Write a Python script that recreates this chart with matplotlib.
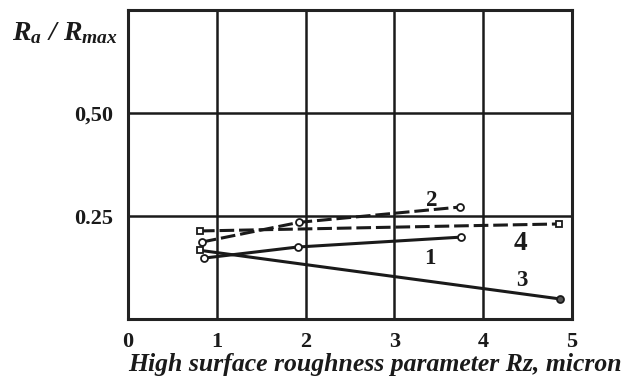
import matplotlib
matplotlib.use("Agg")
import matplotlib.pyplot as plt

# Data
x1 = [0.85, 1.91, 3.75]
y1 = [0.148, 0.175, 0.199]
x2 = [0.83, 1.93, 3.74]
y2 = [0.187, 0.235, 0.272]
x3 = [0.81, 4.87]
y3 = [0.167, 0.049]
x4 = [0.81, 4.86]
y4 = [0.214, 0.231]

xticks = [0, 1, 2, 3, 4, 5]
yticks = [0.25, 0.50]
ytick_labels = ["0.25", "0,50"]

plt.rcParams['font.family'] = ['Liberation Serif', 'DejaVu Serif']
plt.rcParams['mathtext.fontset'] = 'custom'
plt.rcParams['mathtext.rm'] = 'Liberation Serif:bold:italic'
plt.rcParams['mathtext.it'] = 'Liberation Serif:bold:italic'
plt.rcParams['mathtext.bf'] = 'Liberation Serif:bold:italic'

ink = '#1a1a1a'

fig = plt.figure(figsize=(6.31, 3.85), dpi=100)
ax = fig.add_axes([0.203, 0.171, 0.703, 0.803])

ax.set_xlim(0, 5)
ax.set_ylim(0, 0.75)

# grid lines
for v in [1, 2, 3, 4]:
    ax.axvline(v, color=ink, lw=1.8, zorder=1)
for v in yticks:
    ax.axhline(v, color=ink, lw=1.8, zorder=1)

for s in ax.spines.values():
    s.set_linewidth(2.2)
    s.set_color('#222222')

mk = dict(markersize=5, markerfacecolor='white', markeredgecolor=ink, markeredgewidth=1.3)

# curve 1 (solid)
ax.plot(x1, y1, color=ink, lw=2.2, marker='o', zorder=3, **mk)
# curve 2 (dashed)
ax.plot(x2, y2, color=ink, lw=2.2, dashes=(4.8, 1.6), marker='o', zorder=3, **mk)
# curve 3 (solid)
ax.plot(x3, y3, color=ink, lw=2.2, zorder=3)
ax.plot(x3[:1], y3[:1], ls='none', marker='s', zorder=4, **mk)
ax.plot(x3[1:], y3[1:], ls='none', marker='o', markersize=5, markerfacecolor='#555555',
        markeredgecolor=ink, markeredgewidth=1.3, zorder=4)
# curve 4 (dashed)
ax.plot(x4, y4, color=ink, lw=2.2, dashes=(4.8, 1.6), zorder=3)
ax.plot(x4, y4, ls='none', marker='s', zorder=4, **mk)

lab = dict(fontsize=16.5, fontweight='bold', color=ink, ha='center', va='center')
ax.text(3.42, 0.289, "2", **lab)
ax.text(3.40, 0.148, "1", **lab)
ax.text(4.42, 0.184, "4", fontsize=19.5, fontweight='bold', color=ink, ha='center', va='center')
ax.text(4.44, 0.095, "3", **lab)

ax.set_xticks(xticks)
ax.set_xticklabels([str(t) for t in xticks], fontsize=16, fontweight='bold')
ax.set_yticks(yticks)
ax.set_yticklabels(ytick_labels, fontsize=16, fontweight='bold')
ax.tick_params(axis='both', length=0, colors=ink)
ax.tick_params(axis='x', pad=9)
ax.tick_params(axis='y', pad=11)

fig.text(375 / 631, 1 - 365 / 385, "High surface roughness parameter Rz, micron",
         fontsize=18.5, fontweight='bold', fontstyle='italic', color=ink,
         ha='center', va='center')
fig.text(12 / 631, 1 - 33 / 385, r"$R_a\ /\ R_{max}$", fontsize=20, color=ink,
         ha='left', va='center')

fig.savefig("out.png", dpi=100)
